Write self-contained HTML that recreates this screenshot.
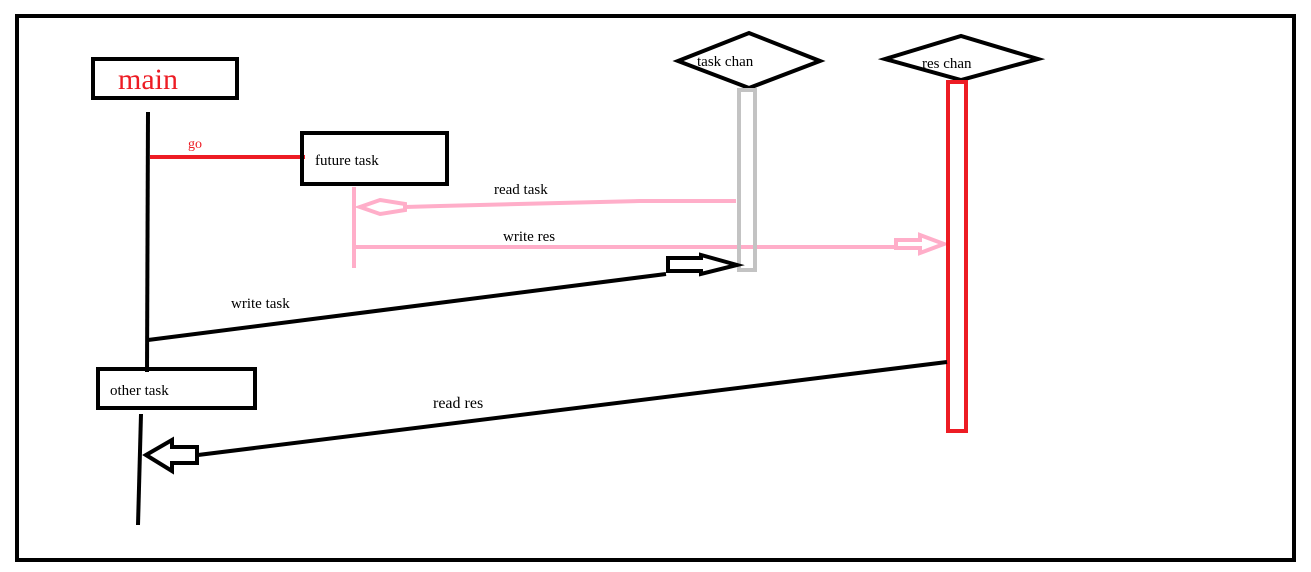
<!DOCTYPE html>
<html><head><style>body{margin:0;background:#fff}svg{display:block}</style></head><body>
<svg width="1311" height="572" viewBox="0 0 1311 572" xmlns="http://www.w3.org/2000/svg" font-family="'Liberation Serif', 'Noto Serif CJK SC', serif">
<rect x="0" y="0" width="1311" height="572" fill="#fff"/>
<rect x="17" y="16" width="1277" height="544" fill="none" stroke="#000" stroke-width="4"/>
<!-- main -->
<rect x="93" y="59" width="144" height="39" fill="none" stroke="#000" stroke-width="4"/>
<text x="118" y="89" font-size="30" fill="#ed1c24">main</text>
<line x1="148" y1="112" x2="147" y2="372" stroke="#000" stroke-width="4"/>
<line x1="150" y1="157" x2="305" y2="157" stroke="#ed1c24" stroke-width="4"/>
<text x="188" y="148" font-size="14" fill="#ed1c24">go</text>
<!-- future task -->
<rect x="302" y="133" width="145" height="51" fill="none" stroke="#000" stroke-width="4"/>
<text x="315" y="165" font-size="15" fill="#000">future task</text>
<line x1="354" y1="187" x2="354" y2="268" stroke="#ffaec9" stroke-width="4"/>
<!-- read task -->
<polyline points="736,201 640,201 440,206 405,207" fill="none" stroke="#ffaec9" stroke-width="4"/>
<polygon points="360,207 380,200 380,200 405,204 405,210 380,214" fill="none" stroke="#ffaec9" stroke-width="4"/>
<text x="494" y="194" font-size="15" fill="#000">read task</text>
<!-- write res -->
<line x1="354" y1="247" x2="895" y2="247" stroke="#ffaec9" stroke-width="4"/>
<polygon points="896,240 920,240 920,235 944,244 920,253 920,248 896,248" fill="none" stroke="#ffaec9" stroke-width="4"/>
<text x="503" y="241" font-size="15" fill="#000">write res</text>
<!-- task chan -->
<polygon points="678,61 749,33 820,61 749,88" fill="#fff" stroke="#000" stroke-width="4"/>
<text x="697" y="66" font-size="15" fill="#000">task chan</text>
<rect x="739" y="90" width="16" height="180" fill="none" stroke="#c3c3c3" stroke-width="4"/>
<!-- res chan -->
<polygon points="885,59 961,36 1038,59 961,80" fill="#fff" stroke="#000" stroke-width="4"/>
<text x="922" y="68" font-size="15" fill="#000">res chan</text>
<rect x="948" y="82" width="18" height="349" fill="none" stroke="#ed1c24" stroke-width="4"/>
<!-- write task -->
<line x1="148" y1="340" x2="666" y2="274" stroke="#000" stroke-width="4"/>
<polygon points="668,258 701,258 701,255 737,265 701,274 701,271 668,271" fill="none" stroke="#000" stroke-width="4"/>
<text x="231" y="308" font-size="15" fill="#000">write task</text>
<!-- other task -->
<rect x="98" y="369" width="157" height="39" fill="none" stroke="#000" stroke-width="4"/>
<text x="110" y="395" font-size="15" fill="#000">other task</text>
<line x1="141" y1="414" x2="138" y2="525" stroke="#000" stroke-width="4"/>
<!-- read res -->
<line x1="947" y1="362" x2="198" y2="455" stroke="#000" stroke-width="4"/>
<polygon points="146,455 172,440 172,447 197,447 197,463 172,463 172,471" fill="none" stroke="#000" stroke-width="4"/>
<text x="433" y="408" font-size="16" fill="#000">read res</text>
</svg>
</body></html>
